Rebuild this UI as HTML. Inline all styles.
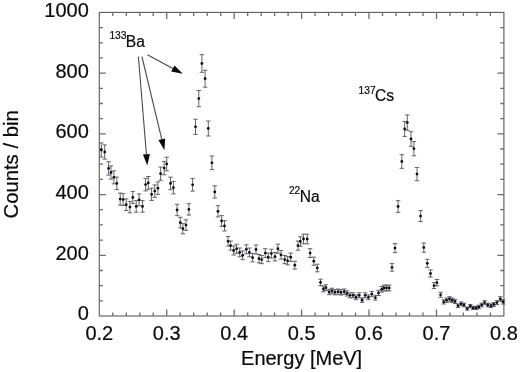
<!DOCTYPE html>
<html><head><meta charset="utf-8"><title>Gamma spectrum</title>
<style>html,body{margin:0;padding:0;background:#fff}svg{display:block;filter:blur(0.35px)}text{font-family:"Liberation Sans",Arial,sans-serif;fill:#0c0c0c;stroke:#0c0c0c;stroke-width:0.22px}</style></head><body>
<svg width="520" height="372" viewBox="0 0 520 372">
<rect width="520" height="372" fill="#fff"/>
<rect x="99.3" y="12.4" width="404.6" height="303.6" fill="none" stroke="#5a5a5a" stroke-width="1.1"/>
<path d="M112.8 316.0v-3.6M112.8 12.4v3.6M126.3 316.0v-3.6M126.3 12.4v3.6M139.8 316.0v-3.6M139.8 12.4v3.6M153.2 316.0v-3.6M153.2 12.4v3.6M166.7 316.0v-6.5M166.7 12.4v6.5M180.2 316.0v-3.6M180.2 12.4v3.6M193.7 316.0v-3.6M193.7 12.4v3.6M207.2 316.0v-3.6M207.2 12.4v3.6M220.7 316.0v-3.6M220.7 12.4v3.6M234.2 316.0v-6.5M234.2 12.4v6.5M247.7 316.0v-3.6M247.7 12.4v3.6M261.1 316.0v-3.6M261.1 12.4v3.6M274.6 316.0v-3.6M274.6 12.4v3.6M288.1 316.0v-3.6M288.1 12.4v3.6M301.6 316.0v-6.5M301.6 12.4v6.5M315.1 316.0v-3.6M315.1 12.4v3.6M328.6 316.0v-3.6M328.6 12.4v3.6M342.1 316.0v-3.6M342.1 12.4v3.6M355.5 316.0v-3.6M355.5 12.4v3.6M369.0 316.0v-6.5M369.0 12.4v6.5M382.5 316.0v-3.6M382.5 12.4v3.6M396.0 316.0v-3.6M396.0 12.4v3.6M409.5 316.0v-3.6M409.5 12.4v3.6M423.0 316.0v-3.6M423.0 12.4v3.6M436.5 316.0v-6.5M436.5 12.4v6.5M450.0 316.0v-3.6M450.0 12.4v3.6M463.4 316.0v-3.6M463.4 12.4v3.6M476.9 316.0v-3.6M476.9 12.4v3.6M490.4 316.0v-3.6M490.4 12.4v3.6M99.3 300.8h3.6M503.9 300.8h-3.6M99.3 285.6h3.6M503.9 285.6h-3.6M99.3 270.5h3.6M503.9 270.5h-3.6M99.3 255.3h6.5M503.9 255.3h-6.5M99.3 240.1h3.6M503.9 240.1h-3.6M99.3 224.9h3.6M503.9 224.9h-3.6M99.3 209.7h3.6M503.9 209.7h-3.6M99.3 194.6h6.5M503.9 194.6h-6.5M99.3 179.4h3.6M503.9 179.4h-3.6M99.3 164.2h3.6M503.9 164.2h-3.6M99.3 149.0h3.6M503.9 149.0h-3.6M99.3 133.8h6.5M503.9 133.8h-6.5M99.3 118.7h3.6M503.9 118.7h-3.6M99.3 103.5h3.6M503.9 103.5h-3.6M99.3 88.3h3.6M503.9 88.3h-3.6M99.3 73.1h6.5M503.9 73.1h-6.5M99.3 57.9h3.6M503.9 57.9h-3.6M99.3 42.8h3.6M503.9 42.8h-3.6M99.3 27.6h3.6M503.9 27.6h-3.6" stroke="#6c6c6c" stroke-width="1.3" fill="none"/>
<text transform="translate(99.3 339.9) scale(0.962 1)" font-size="20.8" text-anchor="middle">0.2</text>
<text transform="translate(166.7 339.9) scale(0.962 1)" font-size="20.8" text-anchor="middle">0.3</text>
<text transform="translate(234.2 339.9) scale(0.962 1)" font-size="20.8" text-anchor="middle">0.4</text>
<text transform="translate(301.6 339.9) scale(0.962 1)" font-size="20.8" text-anchor="middle">0.5</text>
<text transform="translate(369.0 339.9) scale(0.962 1)" font-size="20.8" text-anchor="middle">0.6</text>
<text transform="translate(436.5 339.9) scale(0.962 1)" font-size="20.8" text-anchor="middle">0.7</text>
<text transform="translate(503.9 339.9) scale(0.962 1)" font-size="20.8" text-anchor="middle">0.8</text>
<text transform="translate(88.8 320.2) scale(0.962 1)" font-size="20.8" text-anchor="end">0</text>
<text transform="translate(88.8 259.6) scale(0.962 1)" font-size="20.8" text-anchor="end">200</text>
<text transform="translate(88.8 199.0) scale(0.962 1)" font-size="20.8" text-anchor="end">400</text>
<text transform="translate(88.8 138.4) scale(0.962 1)" font-size="20.8" text-anchor="end">600</text>
<text transform="translate(88.8 77.8) scale(0.962 1)" font-size="20.8" text-anchor="end">800</text>
<text transform="translate(88.8 17.2) scale(0.962 1)" font-size="20.8" text-anchor="end">1000</text>
<text transform="translate(301.6 365.3) scale(0.962 1)" font-size="20.8" text-anchor="middle">Energy [MeV]</text>
<text transform="translate(17.9 164.4) rotate(-90)" font-size="20.3" text-anchor="middle">Counts / bin</text>
<path d="M101.3 142.9V157.1M99.1 142.9h4.4M99.1 157.1h4.4M104.7 144.9V159.1M102.5 144.9h4.4M102.5 159.1h4.4M108.6 161.7V175.1M106.4 161.7h4.4M106.4 175.1h4.4M111.0 165.9V179.1M108.8 165.9h4.4M108.8 179.1h4.4M113.9 170.8V183.8M111.7 170.8h4.4M111.7 183.8h4.4M116.8 177.1V189.7M114.6 177.1h4.4M114.6 189.7h4.4M120.2 193.1V205.1M118.0 193.1h4.4M118.0 205.1h4.4M123.1 193.7V205.5M120.9 193.7h4.4M120.9 205.5h4.4M126.2 198.9V210.5M124.0 198.9h4.4M124.0 210.5h4.4M129.9 201.4V212.8M127.7 201.4h4.4M127.7 212.8h4.4M132.8 191.4V203.4M130.6 191.4h4.4M130.6 203.4h4.4M136.2 200.6V212.2M134.0 200.6h4.4M134.0 212.2h4.4M139.1 193.9V205.7M136.9 193.9h4.4M136.9 205.7h4.4M142.5 200.6V212.2M140.3 200.6h4.4M140.3 212.2h4.4M145.6 178.3V190.9M143.4 178.3h4.4M143.4 190.9h4.4M148.3 176.5V189.3M146.1 176.5h4.4M146.1 189.3h4.4M151.6 188.2V200.4M149.4 188.2h4.4M149.4 200.4h4.4M154.8 184.9V197.3M152.6 184.9h4.4M152.6 197.3h4.4M157.9 182.0V194.4M155.7 182.0h4.4M155.7 194.4h4.4M160.6 167.1V180.3M158.4 167.1h4.4M158.4 180.3h4.4M164.2 161.4V174.8M162.0 161.4h4.4M162.0 174.8h4.4M166.7 157.2V170.8M164.5 157.2h4.4M164.5 170.8h4.4M170.5 177.1V189.7M168.3 177.1h4.4M168.3 189.7h4.4M173.4 181.5V193.9M171.2 181.5h4.4M171.2 193.9h4.4M177.1 204.3V215.7M174.9 204.3h4.4M174.9 215.7h4.4M180.3 217.3V227.9M178.1 217.3h4.4M178.1 227.9h4.4M182.9 223.6V233.8M180.7 223.6h4.4M180.7 233.8h4.4M186.0 219.8V230.4M183.8 219.8h4.4M183.8 230.4h4.4M188.9 203.7V215.1M186.7 203.7h4.4M186.7 215.1h4.4M192.6 178.5V191.1M190.4 178.5h4.4M190.4 191.1h4.4M195.5 119.2V134.4M193.3 119.2h4.4M193.3 134.4h4.4M198.8 90.5V106.7M196.6 90.5h4.4M196.6 106.7h4.4M201.9 54.7V72.3M199.7 54.7h4.4M199.7 72.3h4.4M205.1 70.2V87.2M202.9 70.2h4.4M202.9 87.2h4.4M208.3 121.0V136.0M206.1 121.0h4.4M206.1 136.0h4.4M211.9 156.0V169.6M209.7 156.0h4.4M209.7 169.6h4.4M214.8 185.8V198.0M212.6 185.8h4.4M212.6 198.0h4.4M218.0 205.7V216.9M215.8 205.7h4.4M215.8 216.9h4.4M221.6 215.6V226.4M219.4 215.6h4.4M219.4 226.4h4.4M224.5 220.6V231.0M222.3 220.6h4.4M222.3 231.0h4.4M228.1 236.5V246.1M225.9 236.5h4.4M225.9 246.1h4.4M230.6 241.0V250.2M228.4 241.0h4.4M228.4 250.2h4.4M233.7 246.0V255.0M231.5 246.0h4.4M231.5 255.0h4.4M236.6 244.3V253.3M234.4 244.3h4.4M234.4 253.3h4.4M239.7 248.0V256.8M237.5 248.0h4.4M237.5 256.8h4.4M242.6 251.0V259.6M240.4 251.0h4.4M240.4 259.6h4.4M246.3 244.8V253.8M244.1 244.8h4.4M244.1 253.8h4.4M249.4 248.0V256.8M247.2 248.0h4.4M247.2 256.8h4.4M252.6 253.5V261.9M250.4 253.5h4.4M250.4 261.9h4.4M256.0 245.0V254.0M253.8 245.0h4.4M253.8 254.0h4.4M259.0 254.5V262.9M256.8 254.5h4.4M256.8 262.9h4.4M261.7 255.5V263.7M259.5 255.5h4.4M259.5 263.7h4.4M265.3 248.7V257.5M263.1 248.7h4.4M263.1 257.5h4.4M268.2 253.0V261.4M266.0 253.0h4.4M266.0 261.4h4.4M271.4 249.2V258.0M269.2 249.2h4.4M269.2 258.0h4.4M275.0 252.5V260.9M272.8 252.5h4.4M272.8 260.9h4.4M277.9 244.2V253.2M275.7 244.2h4.4M275.7 253.2h4.4M281.0 250.5V259.1M278.8 250.5h4.4M278.8 259.1h4.4M284.7 255.5V263.7M282.5 255.5h4.4M282.5 263.7h4.4M287.6 256.7V264.9M285.4 256.7h4.4M285.4 264.9h4.4M290.7 253.0V261.4M288.5 253.0h4.4M288.5 261.4h4.4M294.8 261.3V269.1M292.6 261.3h4.4M292.6 269.1h4.4M298.0 241.0V250.2M295.8 241.0h4.4M295.8 250.2h4.4M300.4 236.7V246.3M298.2 236.7h4.4M298.2 246.3h4.4M303.5 234.2V243.8M301.3 234.2h4.4M301.3 243.8h4.4M307.2 234.2V243.8M305.0 234.2h4.4M305.0 243.8h4.4M310.1 248.7V257.5M307.9 248.7h4.4M307.9 257.5h4.4M313.8 257.1V265.3M311.6 257.1h4.4M311.6 265.3h4.4M317.3 264.2V271.8M315.1 264.2h4.4M315.1 271.8h4.4M320.5 279.2V285.6M318.3 279.2h4.4M318.3 285.6h4.4M323.4 286.1V291.9M321.2 286.1h4.4M321.2 291.9h4.4M325.9 284.8V290.6M323.7 284.8h4.4M323.7 290.6h4.4M329.1 289.3V294.7M326.9 289.3h4.4M326.9 294.7h4.4M332.0 288.2V293.8M329.8 288.2h4.4M329.8 293.8h4.4M335.0 289.5V294.9M332.8 289.5h4.4M332.8 294.9h4.4M338.1 289.0V294.4M335.9 289.0h4.4M335.9 294.4h4.4M341.0 289.7V295.1M338.8 289.7h4.4M338.8 295.1h4.4M344.2 289.0V294.4M342.0 289.0h4.4M342.0 294.4h4.4M347.0 290.8V296.0M344.8 290.8h4.4M344.8 296.0h4.4M350.0 292.8V297.8M347.8 292.8h4.4M347.8 297.8h4.4M353.1 292.8V297.8M350.9 292.8h4.4M350.9 297.8h4.4M356.0 294.9V299.7M353.8 294.9h4.4M353.8 299.7h4.4M359.2 292.8V297.8M357.0 292.8h4.4M357.0 297.8h4.4M362.1 298.0V302.4M359.9 298.0h4.4M359.9 302.4h4.4M365.2 292.8V297.8M363.0 292.8h4.4M363.0 297.8h4.4M368.4 294.9V299.7M366.2 294.9h4.4M366.2 299.7h4.4M371.8 291.5V296.7M369.6 291.5h4.4M369.6 296.7h4.4M375.4 295.3V300.1M373.2 295.3h4.4M373.2 300.1h4.4M378.5 290.3V295.5M376.3 290.3h4.4M376.3 295.5h4.4M381.7 286.5V292.1M379.5 286.5h4.4M379.5 292.1h4.4M383.9 285.1V290.9M381.7 285.1h4.4M381.7 290.9h4.4M386.5 285.1V290.9M384.3 285.1h4.4M384.3 290.9h4.4M389.2 285.1V290.9M387.0 285.1h4.4M387.0 290.9h4.4M392.0 263.6V271.2M389.8 263.6h4.4M389.8 271.2h4.4M395.0 243.6V252.6M392.8 243.6h4.4M392.8 252.6h4.4M398.1 200.7V212.3M395.9 200.7h4.4M395.9 212.3h4.4M401.8 154.7V168.3M399.6 154.7h4.4M399.6 168.3h4.4M404.7 121.4V136.4M402.5 121.4h4.4M402.5 136.4h4.4M407.3 114.9V130.3M405.1 114.9h4.4M405.1 130.3h4.4M411.0 131.7V146.3M408.8 131.7h4.4M408.8 146.3h4.4M413.9 141.6V155.8M411.7 141.6h4.4M411.7 155.8h4.4M417.0 167.5V180.7M414.8 167.5h4.4M414.8 180.7h4.4M420.6 210.6V221.6M418.4 210.6h4.4M418.4 221.6h4.4M423.8 243.0V252.2M421.6 243.0h4.4M421.6 252.2h4.4M427.3 259.3V267.3M425.1 259.3h4.4M425.1 267.3h4.4M430.5 269.9V277.1M428.3 269.9h4.4M428.3 277.1h4.4M434.0 282.6V288.6M431.8 282.6h4.4M431.8 288.6h4.4M436.9 279.5V285.9M434.7 279.5h4.4M434.7 285.9h4.4M440.6 292.3V297.3M438.4 292.3h4.4M438.4 297.3h4.4M443.7 299.8V304.0M441.5 299.8h4.4M441.5 304.0h4.4M446.6 298.0V302.4M444.4 298.0h4.4M444.4 302.4h4.4M449.5 296.7V301.3M447.3 296.7h4.4M447.3 301.3h4.4M452.2 298.0V302.4M450.0 298.0h4.4M450.0 302.4h4.4M455.1 299.3V303.5M452.9 299.3h4.4M452.9 303.5h4.4M458.0 303.9V307.5M455.8 303.9h4.4M455.8 307.5h4.4M461.1 301.9V305.7M458.9 301.9h4.4M458.9 305.7h4.4M464.0 303.2V306.8M461.8 303.2h4.4M461.8 306.8h4.4M467.2 307.1V310.1M465.0 307.1h4.4M465.0 310.1h4.4M470.3 304.5V307.9M468.1 304.5h4.4M468.1 307.9h4.4M473.2 306.3V309.5M471.0 306.3h4.4M471.0 309.5h4.4M476.1 306.3V309.5M473.9 306.3h4.4M473.9 309.5h4.4M478.8 305.2V308.6M476.6 305.2h4.4M476.6 308.6h4.4M481.7 303.2V306.8M479.5 303.2h4.4M479.5 306.8h4.4M484.6 300.6V304.6M482.4 300.6h4.4M482.4 304.6h4.4M487.7 303.2V306.8M485.5 303.2h4.4M485.5 306.8h4.4M490.9 303.9V307.5M488.7 303.9h4.4M488.7 307.5h4.4M493.8 302.6V306.4M491.6 302.6h4.4M491.6 306.4h4.4M496.9 300.6V304.6M494.7 300.6h4.4M494.7 304.6h4.4M500.3 296.7V301.3M498.1 296.7h4.4M498.1 301.3h4.4M503.2 299.8V304.0M501.0 299.8h4.4M501.0 304.0h4.4" stroke="#555" stroke-width="0.9" fill="none"/>
<g fill="#0a0a1e"><circle cx="101.3" cy="150.0" r="1.4"/><circle cx="104.7" cy="152.0" r="1.4"/><circle cx="108.6" cy="168.4" r="1.4"/><circle cx="111.0" cy="172.5" r="1.4"/><circle cx="113.9" cy="177.3" r="1.4"/><circle cx="116.8" cy="183.4" r="1.4"/><circle cx="120.2" cy="199.1" r="1.4"/><circle cx="123.1" cy="199.6" r="1.4"/><circle cx="126.2" cy="204.7" r="1.4"/><circle cx="129.9" cy="207.1" r="1.4"/><circle cx="132.8" cy="197.4" r="1.4"/><circle cx="136.2" cy="206.4" r="1.4"/><circle cx="139.1" cy="199.8" r="1.4"/><circle cx="142.5" cy="206.4" r="1.4"/><circle cx="145.6" cy="184.6" r="1.4"/><circle cx="148.3" cy="182.9" r="1.4"/><circle cx="151.6" cy="194.3" r="1.4"/><circle cx="154.8" cy="191.1" r="1.4"/><circle cx="157.9" cy="188.2" r="1.4"/><circle cx="160.6" cy="173.7" r="1.4"/><circle cx="164.2" cy="168.1" r="1.4"/><circle cx="166.7" cy="164.0" r="1.4"/><circle cx="170.5" cy="183.4" r="1.4"/><circle cx="173.4" cy="187.7" r="1.4"/><circle cx="177.1" cy="210.0" r="1.4"/><circle cx="180.3" cy="222.6" r="1.4"/><circle cx="182.9" cy="228.7" r="1.4"/><circle cx="186.0" cy="225.1" r="1.4"/><circle cx="188.9" cy="209.4" r="1.4"/><circle cx="192.6" cy="184.8" r="1.4"/><circle cx="195.5" cy="126.8" r="1.4"/><circle cx="198.8" cy="98.6" r="1.4"/><circle cx="201.9" cy="63.5" r="1.4"/><circle cx="205.1" cy="78.7" r="1.4"/><circle cx="208.3" cy="128.5" r="1.4"/><circle cx="211.9" cy="162.8" r="1.4"/><circle cx="214.8" cy="191.9" r="1.4"/><circle cx="218.0" cy="211.3" r="1.4"/><circle cx="221.6" cy="221.0" r="1.4"/><circle cx="224.5" cy="225.8" r="1.4"/><circle cx="228.1" cy="241.3" r="1.4"/><circle cx="230.6" cy="245.6" r="1.4"/><circle cx="233.7" cy="250.5" r="1.4"/><circle cx="236.6" cy="248.8" r="1.4"/><circle cx="239.7" cy="252.4" r="1.4"/><circle cx="242.6" cy="255.3" r="1.4"/><circle cx="246.3" cy="249.3" r="1.4"/><circle cx="249.4" cy="252.4" r="1.4"/><circle cx="252.6" cy="257.7" r="1.4"/><circle cx="256.0" cy="249.5" r="1.4"/><circle cx="259.0" cy="258.7" r="1.4"/><circle cx="261.7" cy="259.6" r="1.4"/><circle cx="265.3" cy="253.1" r="1.4"/><circle cx="268.2" cy="257.2" r="1.4"/><circle cx="271.4" cy="253.6" r="1.4"/><circle cx="275.0" cy="256.7" r="1.4"/><circle cx="277.9" cy="248.7" r="1.4"/><circle cx="281.0" cy="254.8" r="1.4"/><circle cx="284.7" cy="259.6" r="1.4"/><circle cx="287.6" cy="260.8" r="1.4"/><circle cx="290.7" cy="257.2" r="1.4"/><circle cx="294.8" cy="265.2" r="1.4"/><circle cx="298.0" cy="245.6" r="1.4"/><circle cx="300.4" cy="241.5" r="1.4"/><circle cx="303.5" cy="239.0" r="1.4"/><circle cx="307.2" cy="239.0" r="1.4"/><circle cx="310.1" cy="253.1" r="1.4"/><circle cx="313.8" cy="261.2" r="1.4"/><circle cx="317.3" cy="268.0" r="1.4"/><circle cx="320.5" cy="282.4" r="1.4"/><circle cx="323.4" cy="289.0" r="1.4"/><circle cx="325.9" cy="287.7" r="1.4"/><circle cx="329.1" cy="292.0" r="1.4"/><circle cx="332.0" cy="291.0" r="1.4"/><circle cx="335.0" cy="292.2" r="1.4"/><circle cx="338.1" cy="291.7" r="1.4"/><circle cx="341.0" cy="292.4" r="1.4"/><circle cx="344.2" cy="291.7" r="1.4"/><circle cx="347.0" cy="293.4" r="1.4"/><circle cx="350.0" cy="295.3" r="1.4"/><circle cx="353.1" cy="295.3" r="1.4"/><circle cx="356.0" cy="297.3" r="1.4"/><circle cx="359.2" cy="295.3" r="1.4"/><circle cx="362.1" cy="300.2" r="1.4"/><circle cx="365.2" cy="295.3" r="1.4"/><circle cx="368.4" cy="297.3" r="1.4"/><circle cx="371.8" cy="294.1" r="1.4"/><circle cx="375.4" cy="297.7" r="1.4"/><circle cx="378.5" cy="292.9" r="1.4"/><circle cx="381.7" cy="289.3" r="1.4"/><circle cx="383.9" cy="288.0" r="1.4"/><circle cx="386.5" cy="288.0" r="1.4"/><circle cx="389.2" cy="288.0" r="1.4"/><circle cx="392.0" cy="267.4" r="1.4"/><circle cx="395.0" cy="248.1" r="1.4"/><circle cx="398.1" cy="206.5" r="1.4"/><circle cx="401.8" cy="161.5" r="1.4"/><circle cx="404.7" cy="128.9" r="1.4"/><circle cx="407.3" cy="122.6" r="1.4"/><circle cx="411.0" cy="139.0" r="1.4"/><circle cx="413.9" cy="148.7" r="1.4"/><circle cx="417.0" cy="174.1" r="1.4"/><circle cx="420.6" cy="216.1" r="1.4"/><circle cx="423.8" cy="247.6" r="1.4"/><circle cx="427.3" cy="263.3" r="1.4"/><circle cx="430.5" cy="273.5" r="1.4"/><circle cx="434.0" cy="285.6" r="1.4"/><circle cx="436.9" cy="282.7" r="1.4"/><circle cx="440.6" cy="294.8" r="1.4"/><circle cx="443.7" cy="301.9" r="1.4"/><circle cx="446.6" cy="300.2" r="1.4"/><circle cx="449.5" cy="299.0" r="1.4"/><circle cx="452.2" cy="300.2" r="1.4"/><circle cx="455.1" cy="301.4" r="1.4"/><circle cx="458.0" cy="305.7" r="1.4"/><circle cx="461.1" cy="303.8" r="1.4"/><circle cx="464.0" cy="305.0" r="1.4"/><circle cx="467.2" cy="308.6" r="1.4"/><circle cx="470.3" cy="306.2" r="1.4"/><circle cx="473.2" cy="307.9" r="1.4"/><circle cx="476.1" cy="307.9" r="1.4"/><circle cx="478.8" cy="306.9" r="1.4"/><circle cx="481.7" cy="305.0" r="1.4"/><circle cx="484.6" cy="302.6" r="1.4"/><circle cx="487.7" cy="305.0" r="1.4"/><circle cx="490.9" cy="305.7" r="1.4"/><circle cx="493.8" cy="304.5" r="1.4"/><circle cx="496.9" cy="302.6" r="1.4"/><circle cx="500.3" cy="299.0" r="1.4"/><circle cx="503.2" cy="301.9" r="1.4"/></g>
<text x="109.4" y="39.4" font-size="10.2">133</text><text x="125.8" y="47.1" font-size="15.6">Ba</text>
<text x="358.6" y="93.6" font-size="10.2">137</text><text x="375.0" y="101.3" font-size="15.6">Cs</text>
<text x="288.9" y="194.3" font-size="10.2">22</text><text x="299.7" y="202" font-size="15.6">Na</text>
<line x1="147.4" y1="54.8" x2="172.8" y2="68.5" stroke="#4a4a4a" stroke-width="1.1"/><polygon points="182.8,73.8 171.2,71.5 174.5,65.4" fill="#0a0a0a"/>
<line x1="138.4" y1="56.5" x2="146.4" y2="154.2" stroke="#4a4a4a" stroke-width="1.1"/><polygon points="147.3,165.5 142.9,154.5 149.9,154.0" fill="#0a0a0a"/>
<line x1="141.9" y1="56.5" x2="161.8" y2="139.3" stroke="#4a4a4a" stroke-width="1.1"/><polygon points="164.4,150.3 158.4,140.1 165.2,138.5" fill="#0a0a0a"/>
</svg></body></html>
